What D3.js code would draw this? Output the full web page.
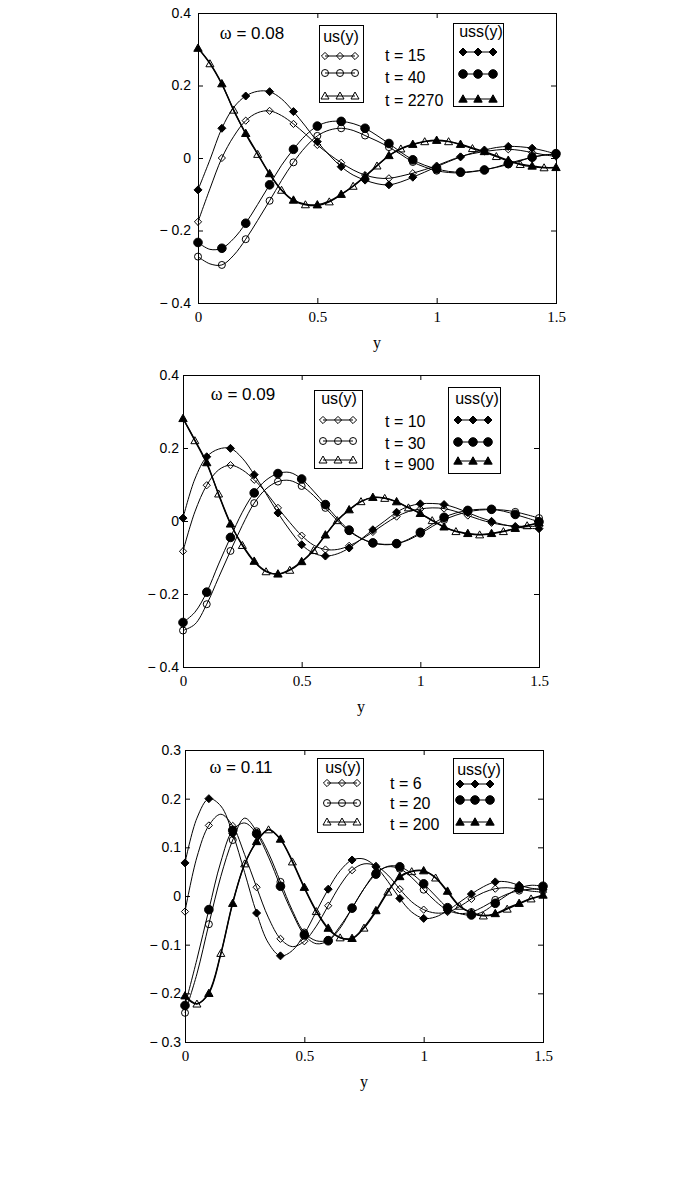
<!DOCTYPE html>
<html>
<head>
<meta charset="utf-8">
<script src="https://cdn.jsdelivr.net/npm/d3@7"></script>
<style>
  body { margin: 0; background: #fff; }
  svg { display: block; }
  .sans { font-family: "Liberation Sans", Arial, sans-serif; }
  .serif { font-family: "Liberation Serif", "Times New Roman", serif; }
</style>
</head>
<body>
<svg id="chart" width="685" height="1193"></svg>
<script>
// distance from the plate, shared by all curves
const yPos = [0, 0.05, 0.1, 0.15, 0.2, 0.25, 0.3, 0.35, 0.4, 0.45, 0.5, 0.55, 0.6, 0.65, 0.7,
  0.75, 0.8, 0.85, 0.9, 0.95, 1.0, 1.05, 1.1, 1.15, 1.2, 1.25, 1.3, 1.35, 1.4, 1.45, 1.5];

const xTicks = [0, 0.5, 1, 1.5];
const yTicks4 = [-0.4, -0.2, 0, 0.2, 0.4];
const yTicks3 = [-0.3, -0.2, -0.1, 0, 0.1, 0.2, 0.3];

// ---- omega = 0.08
const omega1 = "0.08";
const times1 = ["t = 15", "t = 40", "t = 2270"];
const us1_t15 = [-0.176, -0.085, 0.0, 0.06, 0.103, 0.125, 0.130, 0.117, 0.094, 0.066, 0.036, 0.010, -0.013, -0.033, -0.047, -0.055, -0.056, -0.050, -0.042, -0.032, -0.021, -0.008, 0.004, 0.012, 0.018, 0.022, 0.024, 0.021, 0.015, 0.009, 0.004];
const uss1_t15 = [-0.088, -0.005, 0.082, 0.14, 0.171, 0.184, 0.183, 0.163, 0.128, 0.088, 0.045, 0.008, -0.024, -0.047, -0.061, -0.071, -0.074, -0.066, -0.053, -0.039, -0.024, -0.010, 0.003, 0.014, 0.022, 0.029, 0.032, 0.031, 0.027, 0.020, 0.011];
const us1_t40 = [-0.272, -0.292, -0.295, -0.268, -0.224, -0.172, -0.118, -0.062, -0.012, 0.030, 0.061, 0.077, 0.082, 0.076, 0.062, 0.047, 0.030, 0.010, -0.011, -0.025, -0.035, -0.040, -0.041, -0.038, -0.032, -0.026, -0.018, -0.008, 0.002, 0.008, 0.010];
const uss1_t40 = [-0.233, -0.252, -0.249, -0.222, -0.180, -0.128, -0.074, -0.020, 0.024, 0.062, 0.088, 0.100, 0.101, 0.095, 0.082, 0.062, 0.040, 0.016, -0.005, -0.020, -0.030, -0.037, -0.039, -0.037, -0.033, -0.025, -0.015, -0.006, 0.002, 0.008, 0.012];
const us1_t2270 = [0.303, 0.260, 0.203, 0.132, 0.066, 0.010, -0.045, -0.089, -0.118, -0.129, -0.131, -0.121, -0.101, -0.078, -0.051, -0.022, 0.006, 0.025, 0.037, 0.045, 0.048, 0.045, 0.037, 0.026, 0.016, 0.004, -0.008, -0.018, -0.024, -0.027, -0.027];
const uss1_t2270 = [0.303, 0.262, 0.205, 0.130, 0.068, 0.012, -0.043, -0.088, -0.116, -0.127, -0.129, -0.119, -0.100, -0.077, -0.050, -0.021, 0.007, 0.026, 0.038, 0.046, 0.049, 0.046, 0.038, 0.028, 0.018, 0.006, -0.006, -0.016, -0.022, -0.026, -0.026];

// ---- omega = 0.09
const omega2 = "0.09";
const times2 = ["t = 10", "t = 30", "t = 900"];
const us2_t10 = [-0.083, 0.025, 0.098, 0.140, 0.153, 0.140, 0.113, 0.078, 0.036, -0.004, -0.040, -0.066, -0.078, -0.078, -0.068, -0.051, -0.030, -0.008, 0.012, 0.026, 0.033, 0.036, 0.034, 0.026, 0.015, 0.004, -0.005, -0.011, -0.014, -0.015, -0.014];
const uss2_t10 = [0.008, 0.115, 0.176, 0.197, 0.199, 0.172, 0.127, 0.075, 0.022, -0.025, -0.065, -0.088, -0.096, -0.090, -0.074, -0.050, -0.024, 0.000, 0.024, 0.040, 0.047, 0.048, 0.045, 0.036, 0.023, 0.010, -0.001, -0.010, -0.016, -0.020, -0.021];
const us2_t30 = [-0.300, -0.283, -0.228, -0.155, -0.082, -0.012, 0.049, 0.088, 0.108, 0.111, 0.096, 0.070, 0.036, 0.001, -0.028, -0.048, -0.060, -0.064, -0.062, -0.052, -0.035, -0.015, 0.003, 0.016, 0.025, 0.030, 0.031, 0.030, 0.025, 0.017, 0.008];
const uss2_t30 = [-0.278, -0.250, -0.195, -0.118, -0.045, 0.024, 0.077, 0.112, 0.130, 0.133, 0.115, 0.082, 0.045, 0.007, -0.025, -0.047, -0.060, -0.065, -0.062, -0.050, -0.031, -0.009, 0.010, 0.022, 0.029, 0.032, 0.032, 0.027, 0.018, 0.008, -0.002];
const us2_t900 = [0.281, 0.220, 0.157, 0.074, -0.006, -0.067, -0.112, -0.139, -0.146, -0.135, -0.112, -0.081, -0.039, 0.001, 0.030, 0.053, 0.064, 0.062, 0.052, 0.036, 0.020, 0.001, -0.017, -0.029, -0.035, -0.038, -0.035, -0.029, -0.021, -0.013, -0.006];
const uss2_t900 = [0.281, 0.222, 0.160, 0.072, -0.008, -0.065, -0.110, -0.137, -0.145, -0.133, -0.111, -0.080, -0.038, 0.002, 0.031, 0.054, 0.065, 0.063, 0.053, 0.037, 0.021, 0.002, -0.016, -0.028, -0.034, -0.037, -0.034, -0.028, -0.020, -0.012, -0.005];

// ---- omega = 0.11
const omega3 = "0.11";
const times3 = ["t = 6", "t = 20", "t = 200"];
const us3_t6 = [-0.032, 0.080, 0.145, 0.168, 0.144, 0.085, 0.018, -0.045, -0.088, -0.104, -0.093, -0.062, -0.020, 0.022, 0.053, 0.066, 0.062, 0.043, 0.014, -0.012, -0.028, -0.035, -0.033, -0.022, -0.006, 0.007, 0.015, 0.017, 0.014, 0.010, 0.008];
const uss3_t6 = [0.068, 0.160, 0.200, 0.185, 0.128, 0.048, -0.035, -0.097, -0.123, -0.112, -0.078, -0.032, 0.014, 0.052, 0.074, 0.076, 0.060, 0.030, -0.005, -0.033, -0.046, -0.043, -0.030, -0.013, 0.004, 0.019, 0.029, 0.029, 0.022, 0.016, 0.014];
const us3_t20 = [-0.240, -0.160, -0.058, 0.040, 0.115, 0.160, 0.133, 0.088, 0.029, -0.030, -0.075, -0.092, -0.090, -0.062, -0.025, 0.015, 0.048, 0.060, 0.056, 0.038, 0.013, -0.011, -0.029, -0.036, -0.033, -0.022, -0.008, 0.004, 0.011, 0.014, 0.013];
const uss3_t20 = [-0.225, -0.130, -0.028, 0.070, 0.135, 0.150, 0.128, 0.080, 0.020, -0.035, -0.080, -0.098, -0.092, -0.066, -0.025, 0.015, 0.045, 0.061, 0.060, 0.046, 0.025, 0.000, -0.024, -0.036, -0.039, -0.032, -0.015, 0.002, 0.016, 0.022, 0.020];
const us3_t200 = [-0.207, -0.222, -0.198, -0.118, -0.013, 0.066, 0.111, 0.136, 0.116, 0.070, 0.016, -0.032, -0.068, -0.086, -0.088, -0.066, -0.032, 0.008, 0.039, 0.050, 0.051, 0.037, 0.008, -0.021, -0.035, -0.041, -0.037, -0.027, -0.016, -0.006, 0.001];
const uss3_t200 = [-0.205, -0.221, -0.200, -0.120, -0.015, 0.065, 0.112, 0.137, 0.117, 0.072, 0.018, -0.030, -0.066, -0.085, -0.087, -0.064, -0.030, 0.010, 0.040, 0.051, 0.052, 0.038, 0.010, -0.020, -0.034, -0.040, -0.036, -0.025, -0.015, -0.005, 0.002];

const markerTypes = ["diamond", "circle", "triangle"];

const panels = [
  {
    omega: omega1, times: times1,
    us: [us1_t15, us1_t40, us1_t2270], uss: [uss1_t15, uss1_t40, uss1_t2270],
    yDomain: [-0.4, 0.4], yTicks: yTicks4,
    left: 198, right: 556, top: 13, bottom: 303, yPad: 7,
    omegaAt: [252, 33],
    usBox: [319, 25, 363, 102], usTitle: [341, 41.5], usRows: [56, 73, 96], usLine: [325, 355],
    ussBox: [453, 23, 503, 106], ussTitle: [481, 37], ussRows: [52, 74, 99], ussLine: [463, 493],
    tX: 385, tRows: [55, 77, 100]
  },
  {
    omega: omega2, times: times2,
    us: [us2_t10, us2_t30, us2_t900], uss: [uss2_t10, uss2_t30, uss2_t900],
    yDomain: [-0.4, 0.4], yTicks: yTicks4,
    left: 183, right: 539, top: 375, bottom: 667, yPad: 4,
    omegaAt: [243, 394],
    usBox: [314, 390, 362, 468], usTitle: [339, 404], usRows: [420, 441, 460], usLine: [323, 353],
    ussBox: [448, 387, 500, 473], ussTitle: [477, 404], ussRows: [420, 442, 461], ussLine: [458, 488],
    tX: 385, tRows: [421, 443, 464]
  },
  {
    omega: omega3, times: times3,
    us: [us3_t6, us3_t20, us3_t200], uss: [uss3_t6, uss3_t20, uss3_t200],
    yDomain: [-0.3, 0.3], yTicks: yTicks3,
    left: 185, right: 543, top: 750, bottom: 1042, yPad: 4,
    omegaAt: [241, 767],
    usBox: [317, 758, 363, 832], usTitle: [343, 773], usRows: [783, 803, 822], usLine: [327, 357],
    ussBox: [453, 758, 503, 833], ussTitle: [479, 775], ussRows: [784, 800, 822], ussLine: [460, 490],
    tX: 390, tRows: [783, 803, 824]
  }
];

const svg = d3.select("#chart");

function markerPath(type, filled) {
  if (type === "diamond") {
    const r = filled ? 4 : 3.6;
    return `M0,${-r}L${r},0L0,${r}L${-r},0Z`;
  }
  if (type === "circle") {
    const r = filled ? 4.3 : 3.5;
    return d3.arc()({ innerRadius: 0, outerRadius: r, startAngle: 0, endAngle: 2 * Math.PI });
  }
  const r = filled ? 4.2 : 4;
  return `M0,${-r}L${r},${r * 0.75}L${-r},${r * 0.75}Z`;
}

function addMarker(g, type, filled, cx, cy) {
  g.append("path")
    .attr("d", markerPath(type, filled))
    .attr("transform", `translate(${cx},${cy})`)
    .attr("fill", filled ? "#000" : "none")
    .attr("stroke", "#000")
    .attr("stroke-width", 1);
}

const fmtY = (d) => (d < 0 ? "\u2212 " + -d : String(d));

function drawPanel(p) {
  const x = d3.scaleLinear().domain([0, 1.5]).range([p.left, p.right]);
  const y = d3.scaleLinear().domain(p.yDomain).range([p.bottom, p.top]);
  const g = svg.append("g");

  const line = d3
    .line()
    .x((d, i) => x(yPos[i]))
    .y((d) => y(d))
    .curve(d3.curveCatmullRom.alpha(0.5));

  // curves
  const all = [];
  p.us.forEach((s, k) => all.push({ data: s, type: markerTypes[k], filled: false, k }));
  p.uss.forEach((s, k) => all.push({ data: s, type: markerTypes[k], filled: true, k }));

  all.forEach((c) => {
    g.append("path")
      .attr("d", line(c.data))
      .attr("fill", "none")
      .attr("stroke", "#000")
      .attr("stroke-width", c.k === 2 ? 1.3 : 1);
  });

  all.forEach((c) => {
    // open and filled triangles interleave along the same curve
    const offset = c.k === 2 && !c.filled ? 1 : 0;
    c.data.forEach((v, i) => {
      if ((i + offset) % 2 === 0) addMarker(g, c.type, c.filled, x(yPos[i]), y(v));
    });
  });

  // axes: ticks inside on all four sides
  const ax = g.append("g").attr("class", "axes");
  ax.append("g")
    .attr("transform", `translate(${p.left},0)`)
    .call(d3.axisLeft(y).tickValues(p.yTicks).tickSize(-5).tickPadding(p.yPad).tickFormat(fmtY))
    .call((a) => a.select(".domain").remove())
    .call((a) => a.selectAll("text").attr("class", "sans").attr("font-size", 14).attr("font-family", null));
  ax.append("g")
    .attr("transform", `translate(${p.right},0)`)
    .call(d3.axisRight(y).tickValues(p.yTicks).tickSize(-5).tickFormat(""))
    .call((a) => a.select(".domain").remove());
  ax.append("g")
    .attr("transform", `translate(0,${p.bottom})`)
    .call(d3.axisBottom(x).tickValues(xTicks).tickSize(-5).tickPadding(8).tickFormat(d3.format("")))
    .call((a) => a.select(".domain").remove())
    .call((a) => a.selectAll("text").attr("class", "serif").attr("font-size", 15).attr("font-family", null));
  ax.append("g")
    .attr("transform", `translate(0,${p.top})`)
    .call(d3.axisTop(x).tickValues(xTicks).tickSize(-5).tickFormat(""))
    .call((a) => a.select(".domain").remove());
  ax.selectAll(".tick line").attr("stroke", "#000");
  ax.selectAll("g").attr("font-family", null);

  g.append("rect")
    .attr("x", p.left + 0.5)
    .attr("y", p.top + 0.5)
    .attr("width", p.right - p.left)
    .attr("height", p.bottom - p.top)
    .attr("fill", "none")
    .attr("stroke", "#000")
    .attr("stroke-width", 1);

  g.append("text")
    .attr("class", "serif")
    .attr("x", (p.left + p.right) / 2)
    .attr("y", p.bottom + 45)
    .attr("text-anchor", "middle")
    .attr("font-size", 16)
    .text("y");

  // omega label
  const om = g.append("text")
    .attr("class", "sans")
    .attr("x", p.omegaAt[0])
    .attr("y", p.omegaAt[1])
    .attr("dy", "0.35em")
    .attr("text-anchor", "middle")
    .attr("font-size", 17);
  om.append("tspan").attr("class", "serif").attr("font-size", 18).text("\u03c9");
  om.append("tspan").text(" = " + p.omega);

  // legends
  const boxes = [
    { box: p.usBox, title: "us(y)", at: p.usTitle, rows: p.usRows, ln: p.usLine, filled: false },
    { box: p.ussBox, title: "uss(y)", at: p.ussTitle, rows: p.ussRows, ln: p.ussLine, filled: true }
  ];
  boxes.forEach((b) => {
    g.append("rect")
      .attr("x", b.box[0] + 0.5)
      .attr("y", b.box[1] + 0.5)
      .attr("width", b.box[2] - b.box[0])
      .attr("height", b.box[3] - b.box[1])
      .attr("fill", "#fff")
      .attr("stroke", "#000");
    g.append("text")
      .attr("class", "sans")
      .attr("x", b.at[0])
      .attr("y", b.at[1])
      .attr("text-anchor", "middle")
      .attr("font-size", 16)
      .text(b.title);
    b.rows.forEach((ry, k) => {
      g.append("line")
        .attr("x1", b.ln[0]).attr("x2", b.ln[1])
        .attr("y1", ry).attr("y2", ry)
        .attr("stroke", "#000");
      [b.ln[0], (b.ln[0] + b.ln[1]) / 2, b.ln[1]].forEach((mx) =>
        addMarker(g, markerTypes[k], b.filled, mx, ry)
      );
    });
  });

  p.times.forEach((t, k) => {
    g.append("text")
      .attr("class", "sans")
      .attr("x", p.tX)
      .attr("y", p.tRows[k])
      .attr("dy", "0.35em")
      .attr("font-size", 16)
      .text(t);
  });
}

panels.forEach(drawPanel);
</script>
</body>
</html>
